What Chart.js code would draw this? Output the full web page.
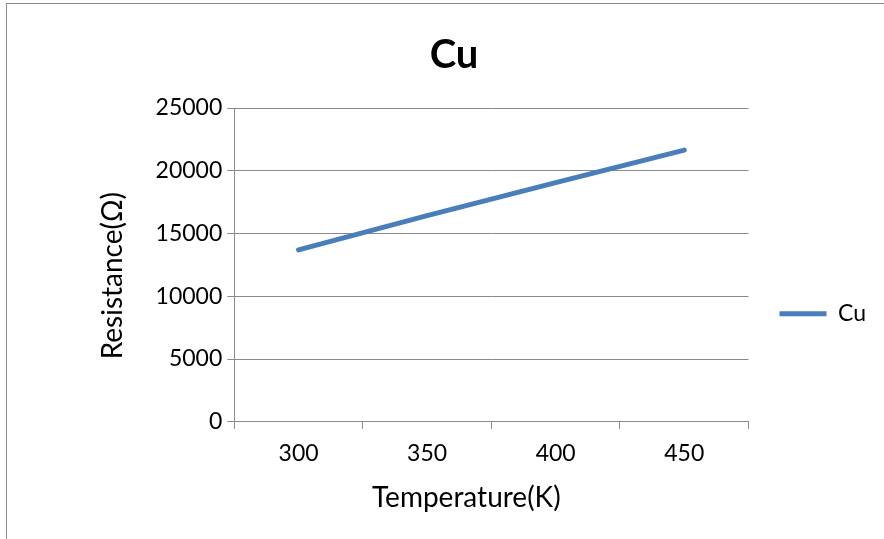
<!DOCTYPE html>
<html lang="en">
<head>
    <meta charset="UTF-8">
    <title>Cu - Resistance vs Temperature</title>
    <script src="https://cdn.jsdelivr.net/npm/chart.js"></script>
    <style>
        body {
            margin: 0;
            background: #ffffff;
            overflow: hidden;
        }
        #wrap {
            position: relative;
            width: 884px;
            height: 539px;
        }
        /* outer chart frame, only top and left edges are visible */
        #frame {
            position: absolute;
            left: 6px;
            top: 3px;
            width: 900px;
            height: 560px;
            border-left: 1px solid #8c8c8c;
            border-top: 1px solid #8c8c8c;
            pointer-events: none;
        }
        canvas {
            position: absolute;
            left: 0;
            top: 0;
        }
    </style>
</head>
<body>
    <div id="wrap">
        <canvas id="cuChart" width="884" height="539"></canvas>
        <div id="frame"></div>
    </div>

    <script>
        // data
        const temperatures = ['300', '350', '400', '450'];
        const resistanceCu = [13700, 16420, 19050, 21650];
        const yTicks = [0, 5000, 10000, 15000, 20000, 25000];

        const gridGray = '#8a8a8a';
        const lineBlue = '#4a7ebb';
        const fontFamily = 'Lato, "Open Sans", sans-serif';

        Chart.defaults.font.family = fontFamily;
        Chart.defaults.color = '#000';

        new Chart(document.getElementById('cuChart').getContext('2d'), {
            type: 'line',
            data: {
                labels: temperatures,
                datasets: [{
                    label: 'Cu',
                    data: resistanceCu,
                    borderColor: lineBlue,
                    backgroundColor: lineBlue,
                    borderWidth: 5,
                    borderCapStyle: 'round',
                    borderJoinStyle: 'round',
                    pointRadius: 0,
                    pointStyle: 'line',
                    tension: 0,
                    fill: false
                }]
            },
            options: {
                responsive: false,
                animation: false,
                layout: {
                    // left/right kept so the chart title lands where it does in the picture
                    padding: { left: 32, right: 8, top: 0, bottom: 24 }
                },
                scales: {
                    x: {
                        type: 'category',
                        offset: true,
                        grid: {
                            offset: true,
                            drawOnChartArea: false,
                            drawTicks: true,
                            tickLength: 7,
                            color: gridGray
                        },
                        border: { color: gridGray, width: 1 },
                        ticks: {
                            font: { size: 23 },
                            padding: 11,
                            maxRotation: 0
                        },
                        title: {
                            display: true,
                            // trailing spaces nudge the centred title a little left, like the original
                            text: 'Temperature(K)       ',
                            font: { size: 28 },
                            padding: { top: 3, bottom: 0 }
                        }
                    },
                    y: {
                        min: 0,
                        max: 25000,
                        afterBuildTicks: (axis) => {
                            axis.ticks = yTicks.map(v => ({ value: v }));
                        },
                        grid: {
                            color: gridGray,
                            tickLength: 7
                        },
                        border: { color: gridGray, width: 1 },
                        ticks: {
                            font: { size: 23 },
                            padding: 5,
                            callback: (v) => String(v)
                        },
                        title: {
                            display: true,
                            text: 'Resistance(Ω)   ',
                            font: { size: 28 },
                            padding: { top: 64, bottom: 21 }
                        }
                    }
                },
                plugins: {
                    title: {
                        display: true,
                        text: 'Cu',
                        font: { size: 40, weight: 'bold' },
                        color: '#000',
                        padding: { top: 31, bottom: 29 }
                    },
                    legend: {
                        position: 'right',
                        // empty legend title pushes the entry below the middle, as in the picture
                        title: {
                            display: true,
                            text: ' ',
                            font: { size: 12 },
                            padding: { top: 49, bottom: 49 }
                        },
                        labels: {
                            usePointStyle: true,
                            pointStyleWidth: 47,
                            padding: 31,
                            font: { size: 23 },
                            color: '#000'
                        }
                    },
                    tooltip: { enabled: false }
                }
            }
        });
    </script>
</body>
</html>
